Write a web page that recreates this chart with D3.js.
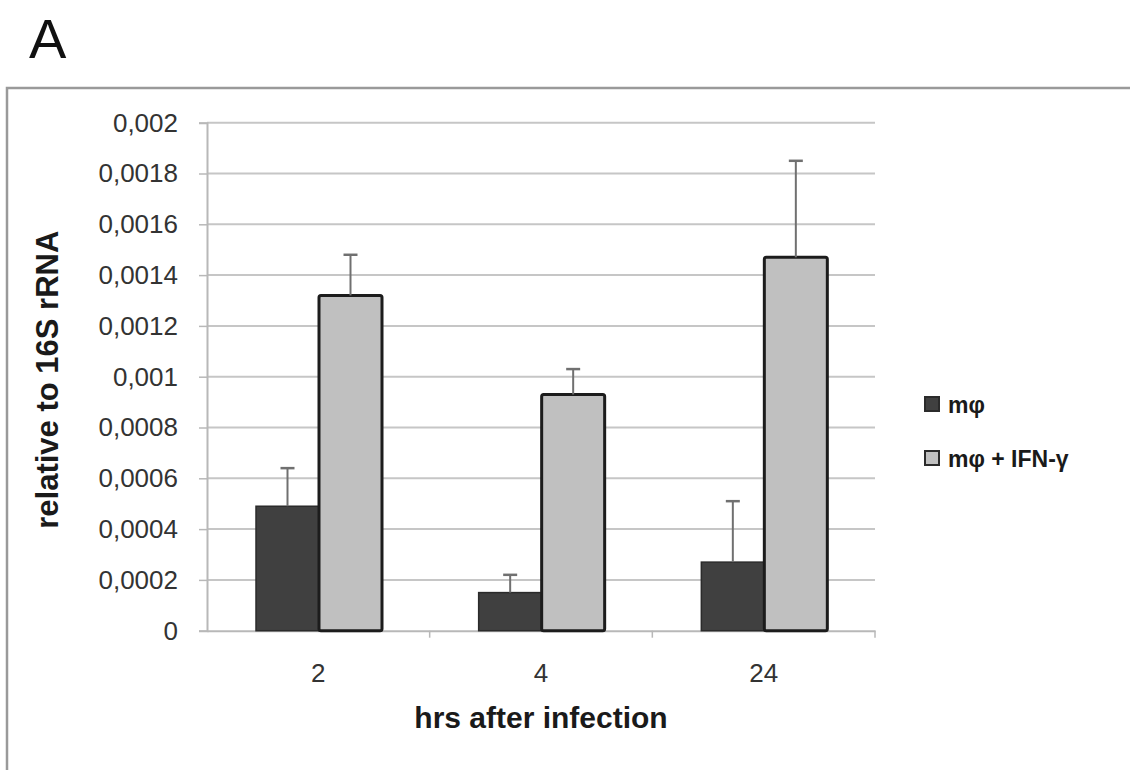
<!DOCTYPE html>
<html>
<head>
<meta charset="utf-8">
<script src="https://cdn.jsdelivr.net/npm/d3@7/dist/d3.min.js"></script>
<style>
  html, body { margin: 0; padding: 0; background: #fff; }
  svg { display: block; }
</style>
</head>
<body>
<svg id="chart" width="1130" height="770"></svg>
<script>
// Time points (hours after infection) and the two series
const groups = ["2", "4", "24"];
const seriesNames = ["mφ", "mφ + IFN-γ"];

// Mean expression relative to 16S rRNA
const macrophage = [0.00049, 0.00015, 0.00027];
const macrophageIFN = [0.00132, 0.00093, 0.00147];

// Upper error (SD) for each bar
const macrophageErr = [0.00015, 0.00007, 0.00024];
const macrophageIFNErr = [0.00016, 0.00010, 0.00038];

// Y-axis ticks and their labels (comma decimal separator)
const yTicks = [0, 0.0002, 0.0004, 0.0006, 0.0008, 0.001, 0.0012, 0.0014, 0.0016, 0.0018, 0.002];
const yTickLabels = ["0", "0,0002", "0,0004", "0,0006", "0,0008", "0,001", "0,0012", "0,0014", "0,0016", "0,0018", "0,002"];

const seriesValues = [macrophage, macrophageIFN];
const seriesErrors = [macrophageErr, macrophageIFNErr];
const seriesFill = ["#404040", "#c0c0c0"];
const seriesStroke = ["#2b2b2b", "#1c1c1c"];

const svg = d3.select("#chart");

// Panel letter
svg.append("text")
  .attr("x", 29).attr("y", 58)
  .attr("font-family", "Liberation Sans, Arial, sans-serif")
  .attr("font-size", 56)
  .attr("fill", "#111")
  .text("A");

// Chart frame (runs off the right and bottom edges)
svg.append("rect")
  .attr("x", 7).attr("y", 88)
  .attr("width", 1140).attr("height", 700)
  .attr("fill", "none")
  .attr("stroke", "#9a9a9a")
  .attr("stroke-width", 2.5);

const plotLeft = 207, plotRight = 875, plotTop = 122.7, plotBottom = 630.7;

const x0 = d3.scaleBand().domain(groups).range([plotLeft, plotRight]).padding(0);
const x1 = d3.scaleBand().domain(seriesNames).range([49, 175]).padding(0);
const y = d3.scaleLinear().domain([0, 0.002]).range([plotBottom, plotTop]);

// Horizontal gridlines
svg.append("g")
  .selectAll("line")
  .data(yTicks.filter(d => d > 0))
  .join("line")
  .attr("x1", plotLeft).attr("x2", plotRight)
  .attr("y1", d => y(d)).attr("y2", d => y(d))
  .attr("stroke", "#c6c6c6")
  .attr("stroke-width", 2);

// Y axis
const yAxis = d3.axisLeft(y)
  .tickValues(yTicks)
  .tickFormat((d, i) => yTickLabels[i])
  .tickSize(8)
  .tickPadding(21);

const gy = svg.append("g")
  .attr("transform", `translate(${plotLeft},0)`)
  .call(yAxis);
gy.select(".domain").attr("stroke", "#b8b8b8").attr("stroke-width", 2);
gy.selectAll(".tick line").attr("stroke", "#b8b8b8").attr("stroke-width", 1.5);
gy.selectAll(".tick text")
  .attr("font-family", "Liberation Sans, Arial, sans-serif")
  .attr("font-size", 26)
  .attr("fill", "#333");

// X axis with ticks between categories
const gx = svg.append("g")
  .attr("transform", `translate(0,${plotBottom})`)
  .call(d3.axisBottom(x0).tickSize(0).tickPadding(33));
gx.select(".domain").attr("stroke", "#b8b8b8").attr("stroke-width", 2);
gx.selectAll(".tick text")
  .attr("font-family", "Liberation Sans, Arial, sans-serif")
  .attr("font-size", 26)
  .attr("fill", "#333");
svg.append("g")
  .selectAll("line")
  .data(groups)
  .join("line")
  .attr("x1", d => x0(d) + x0.bandwidth()).attr("x2", d => x0(d) + x0.bandwidth())
  .attr("y1", plotBottom).attr("y2", plotBottom + 7)
  .attr("stroke", "#b8b8b8").attr("stroke-width", 1.5);

// Bars
const bars = svg.append("g");
seriesNames.forEach((s, si) => {
  bars.selectAll(null)
    .data(groups)
    .join("rect")
    .attr("x", d => x0(d) + x1(s))
    .attr("y", (d, i) => y(seriesValues[si][i]))
    .attr("width", x1.bandwidth())
    .attr("height", (d, i) => plotBottom - y(seriesValues[si][i]))
    .attr("fill", seriesFill[si])
    .attr("stroke", seriesStroke[si])
    .attr("stroke-width", si === 0 ? 1.5 : 3)
    .attr("rx", si === 0 ? 0 : 2);
});

// Error bars (upper only)
const errs = svg.append("g").attr("stroke", "#707070").attr("stroke-width", 2);
seriesNames.forEach((s, si) => {
  groups.forEach((g, i) => {
    const cx = x0(g) + x1(s) + x1.bandwidth() / 2;
    const top = y(seriesValues[si][i] + seriesErrors[si][i]);
    const base = y(seriesValues[si][i]);
    errs.append("line").attr("x1", cx).attr("x2", cx).attr("y1", base).attr("y2", top);
    errs.append("line").attr("x1", cx - 7).attr("x2", cx + 7).attr("y1", top).attr("y2", top)
      .attr("stroke-width", 2.5);
  });
});

// Axis titles
svg.append("text")
  .attr("transform", `translate(58,${(plotTop + plotBottom) / 2 + 3}) rotate(-90)`)
  .attr("text-anchor", "middle")
  .attr("font-family", "Liberation Sans, Arial, sans-serif")
  .attr("font-weight", "bold")
  .attr("font-size", 31)
  .attr("fill", "#1a1a1a")
  .text("relative to 16S rRNA");

svg.append("text")
  .attr("x", (plotLeft + plotRight) / 2).attr("y", 728)
  .attr("text-anchor", "middle")
  .attr("font-family", "Liberation Sans, Arial, sans-serif")
  .attr("font-weight", "bold")
  .attr("font-size", 30)
  .attr("fill", "#1a1a1a")
  .text("hrs after infection");

// Legend
const legend = svg.append("g");
seriesNames.forEach((s, si) => {
  const ly = 405 + si * 54;
  legend.append("rect")
    .attr("x", 925).attr("y", ly - 8)
    .attr("width", 14).attr("height", 14)
    .attr("fill", seriesFill[si])
    .attr("stroke", "#2b2b2b")
    .attr("stroke-width", 2);
  legend.append("text")
    .attr("x", 948).attr("y", ly + 8)
    .attr("font-family", "Liberation Sans, Arial, sans-serif")
    .attr("font-weight", "bold")
    .attr("font-size", 23)
    .attr("fill", "#1a1a1a")
    .text(s);
});
</script>
</body>
</html>
